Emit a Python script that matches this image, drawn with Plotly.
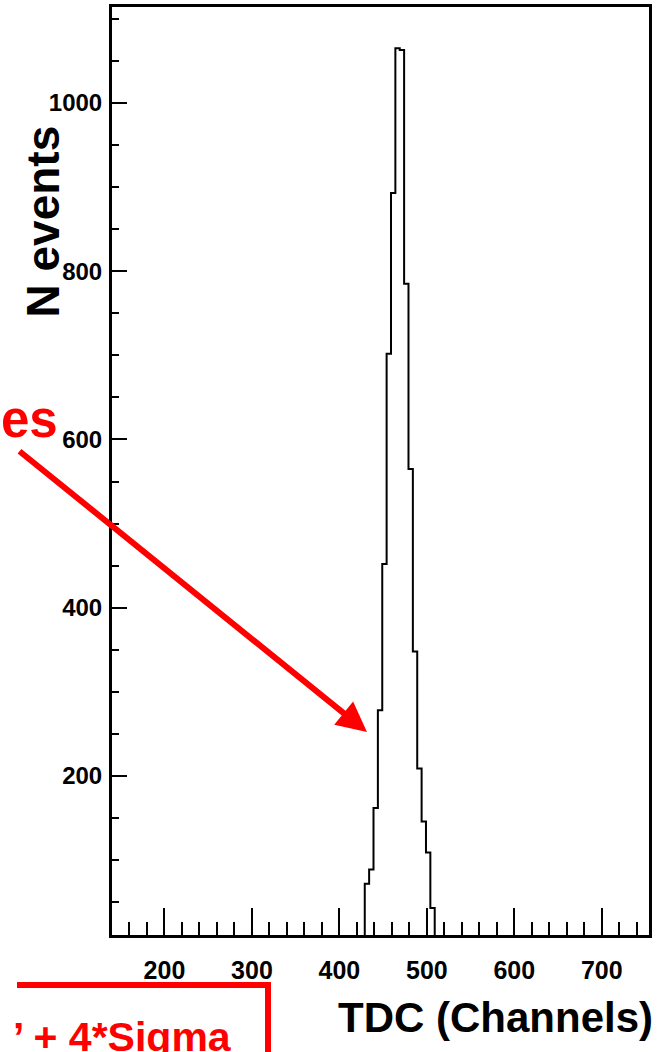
import plotly.graph_objects as go

# ---- data ----
bin_edges = [429, 434, 439, 444, 449, 454, 459, 464, 469, 474, 479, 484, 489, 494, 499, 504, 509]
counts = [72, 89, 162, 278, 452, 702, 893, 1065, 1063, 785, 565, 348, 209, 146, 109, 43]
x_tickvals = [200, 300, 400, 500, 600, 700]
y_tickvals = [200, 400, 600, 800, 1000]
x_range = [140, 754]
y_range = [11, 1114]

# ---- layout geometry ----
W, H = 664, 1052
L, R, T, B = 112, 15, 7, 117
PW = W - L - R
PH = H - T - B


def pxx(x):
    return (x - L) / PW


def pxy(y):
    return (H - B - y) / PH


FONT = "Liberation Sans, Arial, Helvetica, sans-serif"

xs = [bin_edges[0]] + bin_edges
ys = [0] + counts + [0]

fig = go.Figure()
fig.add_trace(go.Scatter(x=xs, y=ys, mode="lines", line=dict(color="black", width=2, shape="hv"),
                         showlegend=False, hoverinfo="skip"))

axis_common = dict(showline=True, linewidth=3, linecolor="black", mirror=True,
                   showgrid=False, zeroline=False, ticks="inside", tickwidth=2, tickcolor="black")

fig.update_layout(
    width=W, height=H,
    margin=dict(l=L, r=R, t=T, b=B, pad=0, autoexpand=False),
    plot_bgcolor="white", paper_bgcolor="white",
    xaxis=dict(range=x_range, tickmode="array", tickvals=x_tickvals, ticklen=27,
               minor=dict(dtick=20, tick0=0, ticks="inside", ticklen=13, tickwidth=2,
                          tickcolor="black", showgrid=False),
               tickfont=dict(family=FONT, size=25, color="black", weight="bold"),
               ticklabelstandoff=11, **axis_common),
    yaxis=dict(range=y_range, tickmode="array", tickvals=y_tickvals, ticklen=15,
               minor=dict(dtick=50, tick0=0, ticks="inside", ticklen=7, tickwidth=2,
                          tickcolor="black", showgrid=False),
               tickfont=dict(family=FONT, size=24, color="black", weight="bold"),
               ticklabelstandoff=2, **axis_common),
)

annotations = [
    dict(text="N events", x=pxx(42.5), y=pxy(222), xref="paper", yref="paper", textangle=-90,
         showarrow=False, xanchor="center", yanchor="middle",
         font=dict(family=FONT, size=46, color="black", weight="bold")),
    dict(text="TDC (Channels)", x=pxx(495), y=pxy(1018), xref="paper", yref="paper",
         showarrow=False, xanchor="center", yanchor="middle",
         font=dict(family=FONT, size=42, color="black", weight="bold")),
    dict(text="es", x=pxx(-1), y=pxy(419), xref="paper", yref="paper",
         showarrow=False, xanchor="left", yanchor="middle",
         font=dict(family=FONT, size=51, color="#ff0000", weight="bold")),
    dict(text="\u2019 + 4*Sigma", x=pxx(234), y=pxy(1037), xref="paper", yref="paper",
         showarrow=False, xanchor="right", yanchor="middle",
         font=dict(family=FONT, size=41, color="#ff0000", weight="bold")),
    dict(text="", x=pxx(367), y=pxy(732), xref="paper", yref="paper",
         showarrow=True, ax=18 - 367, ay=450 - 732, arrowhead=2, arrowsize=1,
         arrowwidth=6, arrowcolor="#ff0000"),
]
fig.update_layout(annotations=annotations)

box_path = "M {} {} L {} {} L {} {}".format(pxx(17), pxy(985), pxx(268), pxy(985), pxx(268), pxy(1070))
fig.add_shape(type="path", path=box_path, xref="paper", yref="paper",
              line=dict(color="#ff0000", width=6))

fig.write_html("out.html")
